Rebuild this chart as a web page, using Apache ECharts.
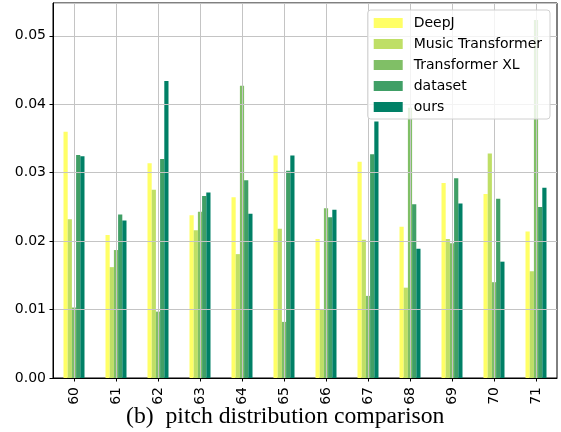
<!DOCTYPE html>
<html>
<head>
<meta charset="utf-8">
<script src="https://cdn.jsdelivr.net/npm/echarts@6/dist/echarts.min.js"></script>
<style>html,body{margin:0;padding:0;background:#fff}#c{width:561px;height:432px}</style>
</head>
<body>
<div id="c"></div>
<script>
const categories = ['60','61','62','63','64','65','66','67','68','69','70','71'];
const seriesNames = ['DeepJ','Music Transformer','Transformer XL','dataset','ours'];
const deepj = [0.0360, 0.0209, 0.0314, 0.0238, 0.0264, 0.0325, 0.0203, 0.0316, 0.0221, 0.0285, 0.0269, 0.0214];
const musicTransformer = [0.0232, 0.0162, 0.0275, 0.0216, 0.0181, 0.0218, 0.0100, 0.0202, 0.0132, 0.0203, 0.0328, 0.0156];
const transformerXL = [0.0103, 0.0187, 0.0097, 0.0243, 0.0427, 0.0082, 0.0248, 0.0120, 0.0395, 0.0197, 0.0140, 0.0523];
const dataset = [0.0326, 0.0239, 0.0320, 0.0266, 0.0289, 0.0303, 0.0235, 0.0327, 0.0254, 0.0292, 0.0262, 0.0250];
const ours = [0.0324, 0.0230, 0.0434, 0.0271, 0.0240, 0.0325, 0.0246, 0.0375, 0.0189, 0.0255, 0.0170, 0.0278];
const colors = ['#ffff66', '#bfdf66', '#80bf66', '#409f66', '#008066'];
const values = [deepj, musicTransformer, transformerXL, dataset, ours];

// helper axis for grid lines at category centres: boundaries and centres interleaved
const gridSlots = [''];
categories.forEach(c => { gridSlots.push(c); gridSlots.push(''); });

const chart = echarts.init(document.getElementById('c'), null, {renderer: 'canvas'});
const font = 'DejaVu Sans';
chart.setOption({
  animation: false,
  backgroundColor: '#fff',
  grid: {left: 53, right: 4, top: 3, bottom: 54, show: true, borderColor: '#000', borderWidth: 1, backgroundColor: 'transparent'},
  title: {
    text: '(b)  pitch distribution comparison',
    left: 121, top: 400,
    textStyle: {fontFamily: 'Liberation Serif', fontSize: 23.7, fontWeight: 'normal', color: '#000'}
  },
  legend: {
    data: seriesNames,
    orient: 'vertical',
    right: 11, top: 10,
    itemWidth: 29, itemHeight: 10, itemGap: 7,
    icon: 'rect',
    padding: [6, 8, 5, 6],
    backgroundColor: 'rgba(255,255,255,0.8)',
    borderColor: '#d0d0d0', borderWidth: 1, borderRadius: 3,
    z: 10,
    textStyle: {fontFamily: font, fontSize: 14, color: '#000', lineHeight: 14, padding: [0, 0, 0, 6]}
  },
  xAxis: [{
    type: 'category',
    data: categories,
    z: 5,
    axisLine: {show: true, lineStyle: {color: '#000', width: 1}},
    axisTick: {show: true, alignWithLabel: true, length: 3.5, inside: false, lineStyle: {color: '#000'}},
    axisLabel: {rotate: 90, fontFamily: font, fontSize: 14, color: '#000', margin: 9},
    splitLine: {show: false}
  }, {
    type: 'category',
    data: gridSlots,
    boundaryGap: false,
    position: 'bottom',
    z: 5,
    axisLine: {show: false},
    axisTick: {show: false},
    axisLabel: {show: false},
    splitLine: {show: true, interval: (idx) => idx % 2 === 1, lineStyle: {color: '#c4c4c4', width: 1}}
  }],
  yAxis: {
    type: 'value',
    min: 0, max: 0.0548, interval: 0.01,
    z: 5,
    axisLine: {show: true, lineStyle: {color: '#000', width: 1}},
    axisTick: {show: true, length: 3.5, lineStyle: {color: '#000'}},
    axisLabel: {fontFamily: font, fontSize: 14, color: '#000', margin: 7, showMaxLabel: false, formatter: v => v.toFixed(2)},
    splitLine: {show: true, lineStyle: {color: '#c4c4c4', width: 1}}
  },
  series: seriesNames.map((n, i) => ({
    name: n,
    type: 'bar',
    xAxisIndex: 0,
    data: values[i],
    barCategoryGap: '50%',
    barGap: '0%',
    itemStyle: {color: colors[i]},
    z: 2
  }))
});
</script>
</body>
</html>
